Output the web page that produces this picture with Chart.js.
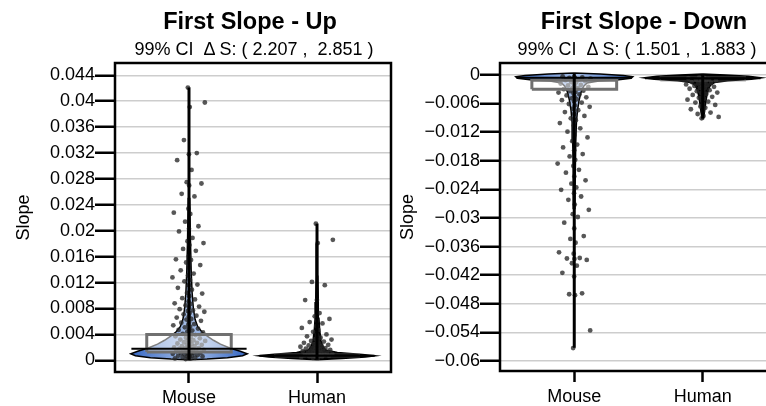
<!DOCTYPE html>
<html><head><meta charset="utf-8">
<script src="https://cdn.jsdelivr.net/npm/chart.js@4.4.1/dist/chart.umd.min.js"></script>
<style>
html,body{margin:0;padding:0;background:#fff;overflow:hidden;}
#wrap{position:relative;width:766px;height:406px;overflow:hidden;background:#fff;}
canvas{position:absolute;top:0;}
#c1{left:0;} #c2{left:395px;}
.t{position:absolute;font-family:'Liberation Sans',Arial,Helvetica,sans-serif;color:#000;white-space:pre;text-align:center;line-height:1;}
.t1{font-weight:bold;font-size:23.5px;}
.t2{font-size:18px;}
</style></head>
<body><div id="wrap">
<canvas id="c1" width="395" height="406"></canvas>
<canvas id="c2" width="400" height="406"></canvas>
<div class="t t1" style="left:100px;width:300px;top:10px">First Slope - Up</div>
<div class="t t2" style="left:104px;width:300px;top:40px">99% CI  Δ S: ( 2.207 ,  2.851 )</div>
<div class="t t1" style="left:494px;width:300px;top:10px">First Slope - Down</div>
<div class="t t2" style="left:487px;width:300px;top:40px">99% CI  Δ S: ( 1.501 ,  1.883 )</div>
</div>
<script>
// ---------------- DATA ----------------
const categories = ['Mouse', 'Human'];

const upTickValues = [0, 0.004, 0.008, 0.012, 0.016, 0.02, 0.024, 0.028, 0.032, 0.036, 0.04, 0.044];
const upTickLabels = ['0', '0.004', '0.008', '0.012', '0.016', '0.02', '0.024', '0.028', '0.032', '0.036', '0.04', '0.044'];
const downTickValues = [0, -0.006, -0.012, -0.018, -0.024, -0.03, -0.036, -0.042, -0.048, -0.054, -0.06];
const downTickLabels = ['0', '\u22120.006', '\u22120.012', '\u22120.018', '\u22120.024', '\u22120.03', '\u22120.036', '\u22120.042', '\u22120.048', '\u22120.054', '\u22120.06'];

// violin density profiles (relative density at each slope level)
const mouseUpLevels  = [0.0001, 0.0002, 0.0004, 0.0007, 0.0010, 0.0014, 0.0019, 0.0025, 0.0031, 0.0037, 0.0044, 0.0052, 0.0063, 0.0080, 0.0105, 0.0140, 0.0190, 0.0250];
const mouseUpDensity = [0.00, 0.31, 0.66, 0.92, 1.00, 0.88, 0.70, 0.54, 0.42, 0.32, 0.22, 0.15, 0.105, 0.075, 0.053, 0.037, 0.024, 0.013];
const humanUpLevels  = [0.0001, 0.0003, 0.0005, 0.0007, 0.0009, 0.0012, 0.0016, 0.0022, 0.0030, 0.0045, 0.0065, 0.0090, 0.0130, 0.0180];
const humanUpDensity = [0.00, 0.43, 0.83, 1.00, 0.78, 0.35, 0.15, 0.10, 0.07, 0.048, 0.033, 0.022, 0.015, 0.009];
const mouseDownLevels  = [0.0004, 0.0002, -0.0001, -0.0004, -0.0007, -0.0010, -0.0013, -0.0017, -0.0023, -0.0031, -0.0041, -0.0055, -0.0075, -0.0100, -0.0140, -0.0200, -0.0280];
const mouseDownDensity = [0.00, 0.44, 0.84, 1.00, 0.97, 0.76, 0.42, 0.22, 0.165, 0.13, 0.105, 0.08, 0.055, 0.037, 0.026, 0.018, 0.011];
const humanDownLevels  = [0.0002, 0.0000, -0.0003, -0.0006, -0.0009, -0.0012, -0.0016, -0.0022, -0.0030, -0.0040, -0.0055, -0.0075, -0.0092];
const humanDownDensity = [0.00, 0.39, 0.78, 1.00, 0.83, 0.43, 0.20, 0.13, 0.10, 0.076, 0.054, 0.033, 0.013];

// box / median / whisker statistics [Mouse, Human]
const upBoxLow = [0.0013, 0.0005];
const upBoxHigh = [0.0040, 0.0010];
const upMedian = [0.0018, 0.0007];
const upMin = [0.0000, 0.0001];
const upMax = [0.0421, 0.0211];
const downBoxLow = [-0.0030, -0.0013];
const downBoxHigh = [-0.0011, -0.0004];
const downMedian = [-0.0006, -0.0007];
const downMin = [-0.0572, -0.0091];
const downMax = [0.0002, 0.0001];

// observations
const mouseUpPts = [0.0421, 0.0398, 0.0391, 0.0340, 0.0320, 0.0318, 0.0309, 0.0294, 0.0275, 0.0273, 0.0270, 0.0257, 0.0253, 0.0234, 0.0228, 0.0226, 0.0214, 0.0207, 0.0203, 0.0199, 0.0189, 0.0184, 0.0181, 0.0178, 0.0172, 0.0169, 0.0161, 0.0156, 0.0155, 0.0151, 0.0147, 0.0143, 0.0139, 0.0134, 0.0131, 0.0128, 0.0124, 0.0122, 0.0117, 0.0116, 0.0112, 0.0109, 0.0104, 0.0103, 0.0099, 0.0096, 0.0094, 0.0091, 0.0088, 0.0087, 0.0085, 0.0083, 0.0081, 0.0079, 0.0077, 0.0076, 0.0075, 0.0073, 0.0071, 0.0069, 0.0068, 0.0066, 0.0064, 0.0063, 0.0061, 0.0059, 0.0058, 0.0056, 0.0055, 0.0054, 0.0052, 0.0051, 0.0049, 0.0048, 0.0047, 0.0046, 0.0044, 0.0043, 0.0042, 0.0041, 0.0039, 0.0038, 0.0037, 0.0036, 0.0035, 0.0034, 0.0033, 0.0032, 0.0031, 0.0031, 0.0030, 0.0029, 0.0028, 0.0027, 0.0027, 0.0026, 0.0025, 0.0024, 0.0024, 0.0023, 0.0022, 0.0022, 0.0021, 0.0020, 0.0020, 0.0019, 0.0019, 0.0018, 0.0018, 0.0017, 0.0017, 0.0016, 0.0016, 0.0015, 0.0015, 0.0014, 0.0014, 0.0013, 0.0013, 0.0012, 0.0012, 0.0011, 0.0011, 0.0010, 0.0010, 0.0009, 0.0009, 0.0008, 0.0008, 0.0007, 0.0007, 0.0006, 0.0006, 0.0005, 0.0005, 0.0004, 0.0004, 0.0003, 0.0003, 0.0002];
const humanUpPts = [0.0211, 0.0186, 0.0181, 0.0121, 0.0116, 0.0093, 0.0093, 0.0073, 0.0068, 0.0064, 0.0061, 0.0059, 0.0057, 0.0053, 0.0050, 0.0047, 0.0044, 0.0040, 0.0039, 0.0037, 0.0035, 0.0033, 0.0032, 0.0031, 0.0030, 0.0029, 0.0028, 0.0027, 0.0026, 0.0025, 0.0024, 0.0024, 0.0023, 0.0022, 0.0021, 0.0021, 0.0020, 0.0019, 0.0019, 0.0018, 0.0018, 0.0017, 0.0017, 0.0016, 0.0016, 0.0015, 0.0015, 0.0014, 0.0014, 0.0013, 0.0013, 0.0012, 0.0012, 0.0011, 0.0011, 0.0010, 0.0010, 0.0009, 0.0009, 0.0009, 0.0008, 0.0008, 0.0008, 0.0007, 0.0007, 0.0007, 0.0006, 0.0006, 0.0005, 0.0005, 0.0004, 0.0004];
const mouseDownPts = [-0.0573, -0.0536, -0.0462, -0.0460, -0.0458, -0.0423, -0.0415, -0.0400, -0.0395, -0.0388, -0.0386, -0.0385, -0.0384, -0.0375, -0.0372, -0.0352, -0.0344, -0.0338, -0.0322, -0.0310, -0.0298, -0.0292, -0.0283, -0.0272, -0.0262, -0.0255, -0.0248, -0.0241, -0.0236, -0.0228, -0.0221, -0.0213, -0.0205, -0.0199, -0.0191, -0.0186, -0.0178, -0.0171, -0.0166, -0.0158, -0.0152, -0.0146, -0.0139, -0.0131, -0.0126, -0.0119, -0.0112, -0.0106, -0.0101, -0.0095, -0.0091, -0.0086, -0.0082, -0.0078, -0.0074, -0.0071, -0.0067, -0.0064, -0.0061, -0.0058, -0.0056, -0.0053, -0.0051, -0.0049, -0.0047, -0.0045, -0.0043, -0.0041, -0.0039, -0.0037, -0.0036, -0.0034, -0.0033, -0.0031, -0.0030, -0.0028, -0.0027, -0.0025, -0.0024, -0.0022, -0.0021, -0.0019, -0.0018, -0.0016, -0.0015, -0.0013, -0.0012, -0.0011, -0.0010, -0.0009, -0.0008, -0.0007, -0.0006, -0.0005, -0.0004, -0.0003];
const humanDownPts = [-0.0091, -0.0088, -0.0086, -0.0082, -0.0079, -0.0076, -0.0072, -0.0069, -0.0066, -0.0063, -0.0061, -0.0058, -0.0056, -0.0054, -0.0052, -0.0050, -0.0048, -0.0046, -0.0044, -0.0042, -0.0040, -0.0038, -0.0037, -0.0035, -0.0034, -0.0032, -0.0031, -0.0029, -0.0028, -0.0027, -0.0025, -0.0024, -0.0023, -0.0022, -0.0021, -0.0020, -0.0019, -0.0018, -0.0017, -0.0016, -0.0015, -0.0014, -0.0013, -0.0012, -0.0011, -0.0010, -0.0009, -0.0008, -0.0007, -0.0006, -0.0005];

// ---------------- STYLE / HELPERS ----------------
const VHALF = 0.455;   // max violin half-width (category units)
const BOXHALF = 0.33;
const MEDHALF = 0.45;
const JIT = 0.13;
const FONT = {family: "'Liberation Sans', Arial, Helvetica, sans-serif", size: 18};

function jitter(i) { const u = 2 * ((i * 0.6180339887 + 0.37) % 1) - 1; return u * Math.abs(u) * JIT; }
function violinPolygon(c, levels, dens) {
  const right = levels.map((y, i) => ({x: c + dens[i] * VHALF, y}));
  const left = levels.map((y, i) => ({x: c - dens[i] * VHALF, y})).reverse();
  const pts = right.concat(left);
  pts.push(right[0]);
  return pts;
}
function boxPolygon(c, lo, hi) {
  return [{x: c - BOXHALF, y: lo}, {x: c + BOXHALF, y: lo}, {x: c + BOXHALF, y: hi}, {x: c - BOXHALF, y: hi}, {x: c - BOXHALF, y: lo}];
}
function blueFill(c) {
  return (ctx) => {
    const chart = ctx.chart, xs = chart.scales && chart.scales.x;
    if (!chart.chartArea || !xs) return '#5b8bd3';
    const x0 = xs.getPixelForValue(c - VHALF), x1 = xs.getPixelForValue(c + VHALF);
    const g = chart.ctx.createLinearGradient(x0, 0, x1, 0);
    g.addColorStop(0, '#3566c2');
    g.addColorStop(0.5, '#a9c1e8');
    g.addColorStop(1, '#3566c2');
    return g;
  };
}
const framePlugin = {
  id: 'frame',
  afterDraw(chart) {
    const {ctx, chartArea: a} = chart;
    ctx.save(); ctx.strokeStyle = '#000'; ctx.lineWidth = 2.5;
    ctx.strokeRect(a.left, a.top, a.right - a.left, a.bottom - a.top);
    ctx.restore();
  }
};

function buildChart(id, o) {
  const ds = [];
  o.violins.forEach((v, k) => {
    ds.push({data: violinPolygon(k, v.levels, v.density), showLine: true, fill: 'shape',
      backgroundColor: k === 0 ? blueFill(k) : '#030303', borderColor: '#000', borderWidth: 1.5,
      pointRadius: 0, order: 10});
  });
  o.points.forEach((p, k) => {
    ds.push({data: p.map((v, i) => ({x: k + jitter(i), y: v})), showLine: false,
      pointRadius: 2.4, pointBorderWidth: 0, pointBackgroundColor: 'rgba(40,40,40,0.78)', order: 8});
  });
  categories.forEach((c, k) => {
    ds.push({data: boxPolygon(k, o.boxLow[k], o.boxHigh[k]), showLine: true, fill: 'shape',
      backgroundColor: k === 0 ? 'rgba(255,255,255,0.5)' : 'rgba(255,255,255,0)',
      borderColor: k === 0 ? '#707070' : 'rgba(112,112,112,0.35)', borderWidth: k === 0 ? 3 : 1.5, pointRadius: 0, order: 6});
    ds.push({data: [{x: k, y: o.min[k]}, {x: k, y: o.max[k]}], showLine: true, fill: false,
      borderColor: '#000', borderWidth: 3, pointRadius: 0, order: 4});
    ds.push({data: [{x: k - MEDHALF, y: o.median[k]}, {x: k + MEDHALF, y: o.median[k]}], showLine: true, fill: false,
      borderColor: '#000', borderWidth: 2, pointRadius: 0, order: 2});
  });
  return new Chart(document.getElementById(id), {
    type: 'scatter',
    data: {datasets: ds},
    plugins: [framePlugin],
    options: {
      responsive: false, animation: false, events: [],
      layout: {padding: {top: 63, left: 0, right: o.padRight, bottom: 0}},
      plugins: {legend: {display: false}, tooltip: {enabled: false}},
      elements: {line: {tension: 0}},
      scales: {
        x: {type: 'linear', min: -0.578, max: 1.578,
          afterBuildTicks: s => { s.ticks = categories.map((c, i) => ({value: i})); },
          afterFit: s => { s.height = o.xH; },
          ticks: {callback: (v, i) => categories[i], font: FONT, color: '#000', padding: 4, maxRotation: 0, autoSkip: false},
          grid: {display: true, drawOnChartArea: false, drawTicks: true, tickLength: 11, tickWidth: 2.5, tickColor: '#000', color: '#000'},
          border: {display: false}},
        y: {type: 'linear', min: o.yMin, max: o.yMax,
          afterBuildTicks: s => { s.ticks = o.tickValues.map(v => ({value: v})); },
          afterFit: s => { s.width = o.yW; },
          ticks: {callback: (v, i) => o.tickLabels[i], font: FONT, color: '#000', padding: 0, autoSkip: false},
          grid: {color: '#cdcdcd', lineWidth: 1.5, tickLength: 20, tickWidth: 2.5, tickColor: '#000'},
          border: {display: false},
          title: {display: true, text: 'Slope', font: FONT, color: '#000', padding: {top: o.titlePad, bottom: 0}}}
      }
    }
  });
}

buildChart('c1', {
  violins: [{levels: mouseUpLevels, density: mouseUpDensity}, {levels: humanUpLevels, density: humanUpDensity}],
  points: [mouseUpPts, humanUpPts],
  boxLow: upBoxLow, boxHigh: upBoxHigh, median: upMedian, min: upMin, max: upMax,
  tickValues: upTickValues, tickLabels: upTickLabels,
  yMin: -0.0018, yMax: 0.0459, yW: 115, xH: 34, padRight: 4, titlePad: 13
});
buildChart('c2', {
  violins: [{levels: mouseDownLevels, density: mouseDownDensity}, {levels: humanDownLevels, density: humanDownDensity}],
  points: [mouseDownPts, humanDownPts],
  boxLow: downBoxLow, boxHigh: downBoxHigh, median: downMedian, min: downMin, max: downMax,
  tickValues: downTickValues, tickLabels: downTickLabels,
  yMin: -0.0621, yMax: 0.0025, yW: 105, xH: 35, padRight: 18, titlePad: 2.7
});
</script>
</body></html>
